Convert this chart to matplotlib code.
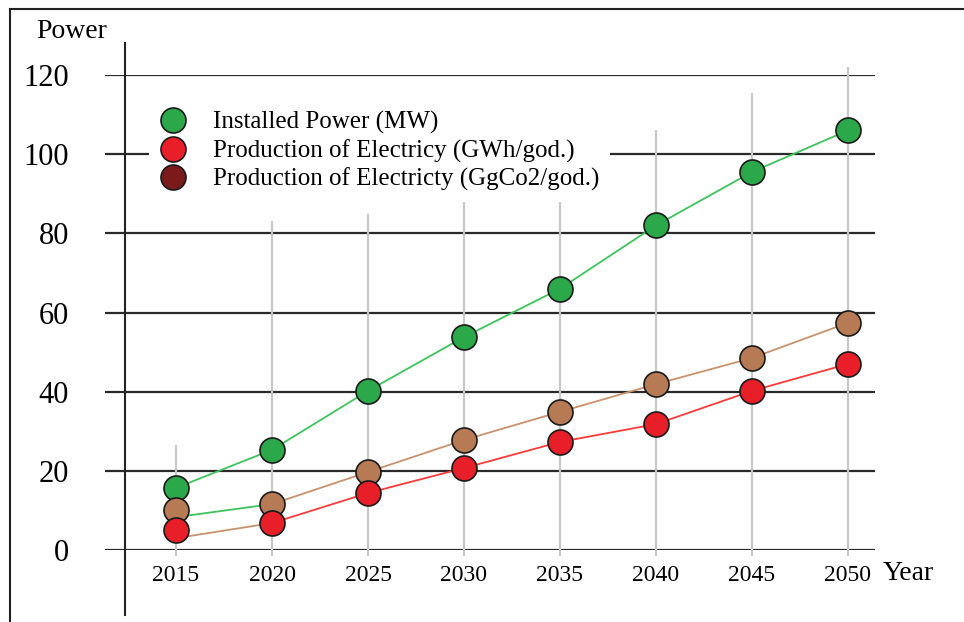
import matplotlib
matplotlib.use("Agg")
import matplotlib.pyplot as plt
from matplotlib.lines import Line2D

plt.rcParams['font.family'] = ['Liberation Serif', 'DejaVu Serif']

years = [2015, 2020, 2025, 2030, 2035, 2040, 2045, 2050]
installed_power = [15.7, 25.3, 40.2, 53.8, 66.0, 82.0, 95.5, 106.0]
production_gwh = [5.0, 6.8, 14.4, 20.7, 27.3, 31.8, 40.2, 47.0]
production_co2 = [10.1, 11.6, 19.7, 27.8, 34.9, 41.9, 48.5, 57.4]
# grey drop-line heights per year
drop_tops = [26.5, 83.0, 85.0, 88.0, 88.5, 106.0, 115.5, 122.0]
# odd first segments (start values at 2015)
seg_start_green = 8.3
seg_start_brown = 3.0
yticks = [0, 20, 40, 60, 80, 100, 120]
labels = ['Installed Power (MW)', 'Production of Electricy (GWh/god.)',
          'Production of Electricty (GgCo2/god.)']

W, H = 964, 622
fig = plt.figure(figsize=(W / 100, H / 100), dpi=100)


def fx(px):
    return px / W


def fy(py):
    return 1 - py / H


ax = fig.add_axes([fx(105), fy(550), (875 - 105) / W, (550 - 75) / H])
ax.set_xlim(2011.30, 2051.41)
ax.set_ylim(0, 120)
for s in ax.spines.values():
    s.set_visible(False)

# gridlines
for v in yticks:
    ax.axhline(v, color='#2a2a2a', lw=1.6, zorder=1)

# grey drop lines
ax.vlines(years, -1.5, drop_tops, color='#c8c8c8', lw=1.6, zorder=2, clip_on=False)

# lines
c_green_line = '#3dc45c'
c_red_line = '#ff3a3a'
c_brown_line = '#c9926c'
ax.plot(years, installed_power, color=c_green_line, lw=1.3, zorder=3)
ax.plot(years[1:], production_co2[1:], color=c_brown_line, lw=1.3, zorder=3)
ax.plot(years[1:], production_gwh[1:], color=c_red_line, lw=1.3, zorder=3)
ax.plot([years[0], years[1]], [seg_start_green, production_co2[1]], color=c_green_line, lw=1.3, zorder=3)
ax.plot([years[0], years[1]], [seg_start_brown, production_gwh[1]], color=c_brown_line, lw=1.3, zorder=3)

# markers
MS = 18
mk = dict(marker='o', ms=MS, mec='#1a1a1a', mew=1.2, ls='none', zorder=4, clip_on=False)
ax.plot(years, installed_power, mfc='#2aa84a', **mk)
ax.plot(years, production_co2, mfc='#b67a55', **mk)
ax.plot(years, production_gwh, mfc='#e81e28', **mk)

# ticks
ax.set_yticks(yticks)
ax.set_yticklabels([str(v) for v in yticks], fontsize=22)
ax.set_xticks(years)
ax.set_xticklabels([str(y) for y in years], fontsize=17)
ax.tick_params(axis='y', length=0, pad=26)
ax.tick_params(axis='x', length=0, pad=11)

# legend
handles = [
    Line2D([], [], marker='o', ls='none', ms=MS, mfc='#2aa84a', mec='#1a1a1a', mew=1.2),
    Line2D([], [], marker='o', ls='none', ms=MS, mfc='#e81e28', mec='#1a1a1a', mew=1.2),
    Line2D([], [], marker='o', ls='none', ms=MS, mfc='#7a1a1a', mec='#1a1a1a', mew=1.2),
]
leg = ax.legend(handles, labels, loc='upper left',
                bbox_to_anchor=(fx(149), fy(100)), bbox_transform=fig.transFigure,
                fontsize=18, frameon=True, fancybox=False, framealpha=1,
                facecolor='white', edgecolor='none', borderpad=0.45,
                handlelength=1.0, handletextpad=1.1, labelspacing=0.2,
                borderaxespad=0)
leg.set_zorder(5)

# axis line and texts
fig.add_artist(Line2D([fx(125), fx(125)], [fy(43), fy(615)], color='#222222', lw=1.5))
fig.text(fx(36), fy(31), 'Power', fontsize=20, ha='left', va='center')
fig.text(fx(883), fy(573), 'Year', fontsize=20, ha='left', va='center')

# frame (top and left edges)
fig.add_artist(Line2D([fx(10), fx(10)], [fy(9), 0], color='#222222', lw=1.5))
fig.add_artist(Line2D([fx(10), 1], [fy(9), fy(9)], color='#222222', lw=1.5))

fig.savefig('out.png', dpi=100)
